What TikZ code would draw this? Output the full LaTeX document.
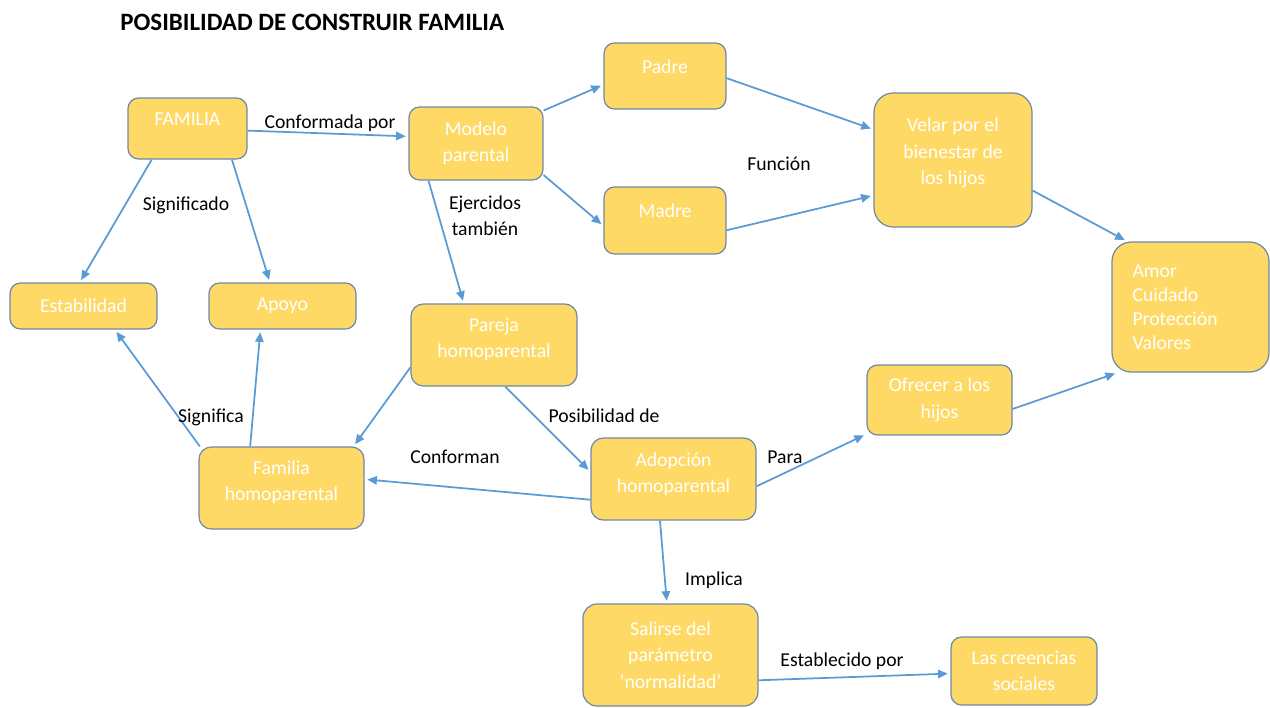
\documentclass[tikz,border=0pt]{standalone}
\usepackage{fontspec}
\setmainfont{Carlito}
\usetikzlibrary{arrows.meta}
\definecolor{boxfill}{HTML}{FFD966}
\definecolor{boxline}{HTML}{6F89A6}
\definecolor{arrowblue}{HTML}{5B9BD5}
\tikzset{concept/.style 2 args={rectangle, rounded corners=6pt, draw=boxline,
           line width=0.7pt, fill=boxfill, text=white, align=center, inner sep=2pt,
           minimum width=#1*0.02cm, minimum height=#2*0.02cm,
           font=\fontsize{11.2}{15}\selectfont},
         raised/.style={text depth=#1},
         link/.style={draw=arrowblue, line width=1pt, shorten >=1.5pt,
           -{Triangle[length=5.5pt,width=4.8pt]}},
         linklabel/.style={text=black, align=center, inner sep=0pt,
           font=\fontsize{11.2}{15}\selectfont}}

\begin{document}
\begin{tikzpicture}[x=0.02cm, y=-0.02cm]
        \useasboundingbox (0,0) rectangle (1270,707);

        % Title
        \node[anchor=west, inner sep=0pt, font=\bfseries\fontsize{14.2}{17}\selectfont] (title) at (120,22) {POSIBILIDAD DE CONSTRUIR FAMILIA};

        % Nodes for the upper row
        \node[concept={119}{61}, raised=11pt] (fam) at (187.5,128.5) {FAMILIA};
        \node[concept={134}{73}] (mod) at (476,143.5) {Modelo\\parental};
        \node[concept={122}{66}, raised=11pt] (pad) at (665,76) {Padre};
        \node[concept={122}{67}, raised=11pt] (mad) at (665,220.5) {Madre};
        \node[concept={158}{134}, raised=10pt, rounded corners=11pt] (vel) at (953,160) {Velar por el\\bienestar de\\los hijos};
        \node[concept={157}{130}, rounded corners=11pt, align=left, text width=66pt, inner xsep=11pt,
              font=\fontsize{11.2}{13.6}\selectfont] (amo) at (1190.5,307) {Amor\\Cuidado\\Protección\\Valores};

        % Nodes for the middle row
        \node[concept={147}{46}] (est) at (83.5,306) {Estabilidad};
        \node[concept={147}{46}] (apo) at (282.5,306) {Apoyo};
        \node[concept={166}{82}, raised=8pt, rounded corners=7pt] (par) at (494,345) {Pareja\\homoparental};
        \node[concept={145}{70}] (ofr) at (939.5,400) {Ofrecer a los\\hijos};

        % Nodes for the lower row
        \node[concept={165}{82}, raised=8pt, rounded corners=7pt] (fho) at (281.5,488) {Familia\\homoparental};
        \node[concept={165}{82}, raised=7pt, rounded corners=7pt] (ado) at (673.5,479) {Adopción\\homoparental};
        \node[concept={175}{102}, rounded corners=8pt] (sal) at (670.5,655) {Salirse del\\parámetro\\‘normalidad’};
        \node[concept={146}{68}] (cre) at (1024,671) {Las creencias\\sociales};

        % Arrows between the nodes
        \draw[link] (fam.-2) -- (mod.174);
        \draw[link] (mod.26) -- (pad.188);
        \draw[link] (mod.-25) -- (mad.185);
        \draw[link] (pad.-2) -- (vel.159);
        \draw[link] (mad.-9) -- (vel.204);
        \draw[link] (vel.-21) -- (amo.134);
        \draw[link] (ofr.-7) -- (amo.222);
        \draw[link] (fam.-139) -- (est.99);
        \draw[link] (fam.-35) -- (apo.118);
        \draw[link] (mod.-142) -- (par.126);
        \draw[link] (par.195) -- (fho.30);
        \draw[link] (fho.153) -- (est.-37);
        \draw[link] (fho.127) -- (apo.-133);
        \draw[link] (par.-75) -- (ado.175);
        \draw[link] (ado.194) -- (fho.6);
        \draw[link] (ado.-5) -- (ofr.205);
        \draw[link] (ado.-108) -- (sal.94);
        \draw[link] (sal.-16) -- (cre.182);

        % Arrow labels
        \node[linklabel] (lconf) at (330,123) {Conformada por};
        \node[linklabel] (lfunc) at (779,164) {Función};
        \node[linklabel] (lsigdo) at (186,205) {Significado};
        \node[linklabel] (lejer) at (485,216) {Ejercidos\\también};
        \node[linklabel] (lsig) at (211,417) {Significa};
        \node[linklabel] (lposib) at (604,416) {Posibilidad de};
        \node[linklabel] (lconfm) at (455,457) {Conforman};
        \node[linklabel] (lpara) at (785,457) {Para};
        \node[linklabel] (limpl) at (714,580) {Implica};
        \node[linklabel] (lestab) at (842,661) {Establecido por};

    \end{tikzpicture}
\end{document}
